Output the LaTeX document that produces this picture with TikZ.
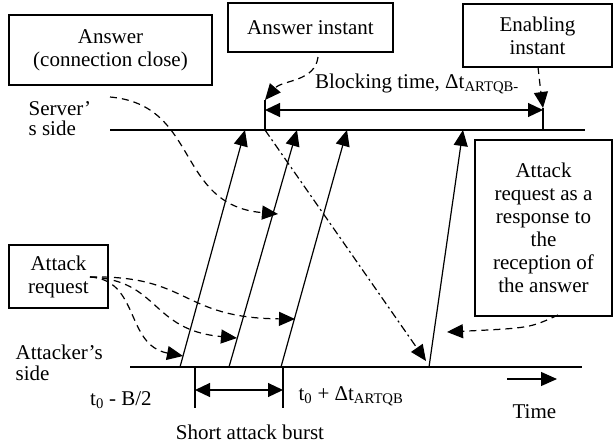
\documentclass[tikz,border=0pt]{standalone}
\usepackage{fontspec}
\setmainfont{Liberation Serif}
\usetikzlibrary{arrows.meta,positioning}

\begin{document}
\begin{tikzpicture}[x=1pt,y=-1pt,line width=1.2pt,
	font=\fontsize{21}{23}\selectfont,
	every node/.style={inner sep=0pt},
	box/.style={draw,align=center},
	tip/.style={-{Triangle[length=16pt,width=14pt]}},
	both/.style={{Triangle[length=15pt,width=14pt]}-{Triangle[length=15pt,width=14pt]}},
	hint/.style={tip,dash pattern=on 7pt off 5pt},
	reply/.style={tip,dash pattern=on 8pt off 3.5pt on 2pt off 3.5pt}]
	\useasboundingbox (0,0) rectangle (613,445);
	% boxes
	\node[box,minimum width=203pt,minimum height=70pt](ans) at (110.5,50) {Answer\\(connection close)};
	\node[box,minimum width=165pt,minimum height=49pt](inst) at (310.5,27.5) {Answer instant};
	\node[box,minimum width=149pt,minimum height=63pt](enab) at (537.5,35.5) {Enabling\\instant};
	\node[box,minimum width=137pt,minimum height=176pt](resp) at (543.5,228) {Attack\\request as a\\response to\\the\\reception of\\the answer};
	\node[box,minimum width=99pt,minimum height=63pt](req) at (58.5,276.5) {Attack\\request};
	% time lines
	\coordinate (s0) at (110,130); \coordinate (s1) at (585,130);
	\coordinate (a0) at (130,367); \coordinate (a1) at (582,367);
	\draw (s0) -- (s1);
	\draw (a0) -- (a1);
	\node[align=left,anchor=west](srv) at (28,119) {Server’\\[-3pt]s side};
	\node[align=left,anchor=west](atk) at (15,363) {Attacker’s\\[-2pt]side};
	% blocking time
	\coordinate (k0) at (265,100); \coordinate (k1) at (265,130);
	\coordinate (e0) at (543,108); \coordinate (e1) at (543,130);
	\draw (k0) -- (k1);
	\draw (e0) -- (e1);
	\draw[both] (265,110) coordinate (m0) -- (543,110) coordinate (m1);
	\node(blk) at (417,84) {Blocking time, Δt\textsubscript{ARTQB-}};
	% requests
	\foreach \a/\b [count=\i] in {180/245, 229/297, 281/347, 429/463}{
		\coordinate (p\i) at (\a,367);
		\coordinate (q\i) at (\b,130);
		\draw[tip] (p\i) -- (q\i);
	}
	\coordinate (hit) at (426,361);
	\draw[reply] (k1) -- (hit);
	% hints
	\coordinate (c0) at (110,97);
	\coordinate (c1) at (278,214);
	\coordinate (c2) at (318,57);
	\coordinate (c3) at (538,67);
	\coordinate (c4) at (90,277);
	\coordinate (c5) at (558,315);
	\draw[hint] (c0) .. controls (200,105) and (175,205) .. (c1);
	\draw[hint] (c2) .. controls (315,82) and (282,80) .. (k0);
	\draw[hint] (c3) .. controls (540,85) .. (e0);
	\draw[hint] (c4) .. controls (140,280) and (125,345) .. (183,356);
	\draw[hint] (c4) .. controls (160,280) and (150,330) .. (237,338);
	\draw[hint] (c4) .. controls (190,275) and (180,318) .. (295,319);
	\draw[hint] (c5) .. controls (530,328) .. (447,332);
	% burst
	\coordinate (b0) at (195,367); \coordinate (b1) at (283,367);
	\draw (b0) -- ++(0,41);
	\draw (b1) -- ++(0,41);
	\draw[both] (195,390) coordinate (d0) -- (283,390) coordinate (d1);
	\node(t1) at (121,400) {t\textsubscript{0} - B/2};
	\node(t2) at (351,396) {t\textsubscript{0} + Δt\textsubscript{ARTQB}};
	\node(brst) at (250,432) {Short attack burst};
	\coordinate (w0) at (507,379); \coordinate (w1) at (557,379);
	\draw[tip] (w0) -- (w1);
	\node[below=25pt of w0,anchor=north west,xshift=5pt](time) {Time};
\end{tikzpicture}
\end{document}
